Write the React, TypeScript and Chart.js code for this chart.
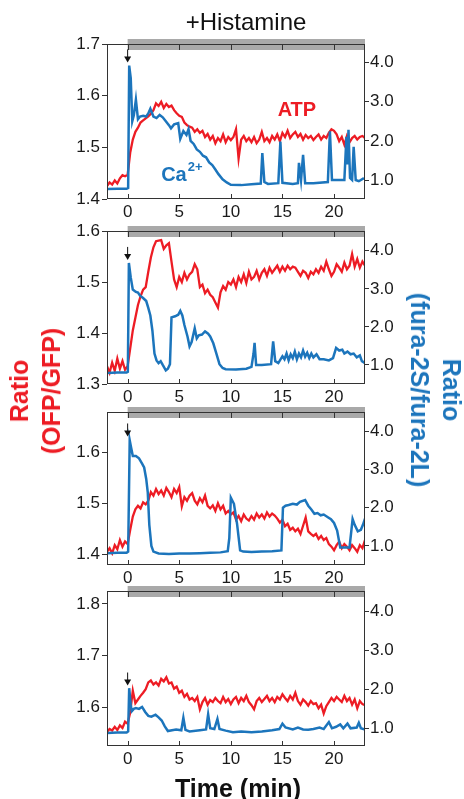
import React, { useEffect, useRef } from "react";
import { Chart, registerables } from "chart.js";
Chart.register(...registerables);

const RED = "#ED1C24";
const BLUE = "#1C75BC";
const FONT = "'Liberation Sans', Arial, Helvetica, sans-serif";

// time grid of the red (ATP) traces: -2 .. 23 min every 0.25 min
const timeStart = -2;
const timeStep = 0.25;
const xTicks = [0, 5, 10, 15, 20];
const rightTicks = [1, 2, 3, 4];
const leftTicks1 = [1.4, 1.5, 1.6, 1.7];
const leftTicks2 = [1.3, 1.4, 1.5, 1.6];
const leftTicks3 = [1.4, 1.5, 1.6];
const leftTicks4 = [1.6, 1.7, 1.8];

// ATP (OFP/GFP ratio), left axis
const atp1 = [
  1.425, 1.432, 1.428, 1.436, 1.430, 1.440, 1.446, 1.444, 1.447,
  1.490, 1.515, 1.530, 1.538, 1.548, 1.552, 1.556, 1.560,
  1.565, 1.572, 1.585, 1.580, 1.588, 1.576, 1.584, 1.578,
  1.581, 1.572, 1.566, 1.561, 1.559, 1.548, 1.543, 1.540,
  1.538, 1.530, 1.535, 1.528, 1.532, 1.520, 1.526, 1.515,
  1.522, 1.508, 1.518, 1.512, 1.525, 1.510, 1.520, 1.514,
  1.520, 1.535, 1.478, 1.515, 1.522, 1.512, 1.518, 1.510,
  1.520, 1.508, 1.515, 1.530, 1.512, 1.518, 1.510, 1.522,
  1.515, 1.525, 1.512, 1.528, 1.520, 1.532, 1.518, 1.525,
  1.530, 1.520, 1.526, 1.515, 1.524, 1.518, 1.522, 1.514,
  1.520, 1.525, 1.515, 1.522, 1.518, 1.528, 1.535, 1.532,
  1.525, 1.512, 1.520, 1.505, 1.522, 1.510, 1.518, 1.522,
  1.515, 1.520, 1.522, 1.518,
];
const atp2 = [
  1.335, 1.322, 1.342, 1.326, 1.350, 1.330, 1.345, 1.328, 1.335,
  1.370, 1.405, 1.430, 1.455, 1.472, 1.485, 1.490, 1.520,
  1.548, 1.568, 1.580, 1.581, 1.582, 1.565, 1.572, 1.576,
  1.540, 1.505, 1.490, 1.510, 1.500, 1.518, 1.505, 1.515,
  1.520, 1.535, 1.525, 1.490, 1.495, 1.478, 1.485, 1.475,
  1.470, 1.460, 1.450, 1.480, 1.492, 1.485, 1.500, 1.495,
  1.505, 1.490, 1.510, 1.500, 1.515, 1.498, 1.520, 1.505,
  1.510, 1.522, 1.505, 1.518, 1.525, 1.512, 1.528, 1.518,
  1.525, 1.532, 1.520, 1.530, 1.522, 1.532, 1.525, 1.530,
  1.528, 1.520, 1.512, 1.522, 1.518, 1.508, 1.520, 1.515,
  1.525, 1.518, 1.530, 1.522, 1.540, 1.525, 1.512, 1.520,
  1.535, 1.528, 1.520, 1.538, 1.525, 1.532, 1.555, 1.530,
  1.545, 1.528, 1.540, 1.532,
];
const atp3 = [
  1.405, 1.412, 1.402, 1.418, 1.410, 1.428, 1.415, 1.425, 1.420,
  1.448, 1.474, 1.488, 1.495, 1.490, 1.502, 1.498, 1.505,
  1.522, 1.515, 1.528, 1.518, 1.525, 1.515, 1.530, 1.522,
  1.512, 1.528, 1.520, 1.532, 1.494, 1.512, 1.505, 1.515,
  1.520, 1.505, 1.498, 1.510, 1.502, 1.515, 1.495, 1.490,
  1.496, 1.485, 1.500, 1.488, 1.495, 1.480, 1.485, 1.478,
  1.482, 1.468, 1.475, 1.465, 1.478, 1.470, 1.466, 1.475,
  1.468, 1.480, 1.472, 1.478, 1.470, 1.482, 1.474, 1.480,
  1.476, 1.470, 1.462, 1.468, 1.455, 1.460, 1.448, 1.452,
  1.445, 1.450, 1.440, 1.456, 1.472, 1.445, 1.440, 1.436,
  1.440, 1.430, 1.436, 1.428, 1.432, 1.420, 1.415, 1.408,
  1.418, 1.425, 1.412, 1.420, 1.415, 1.408, 1.418, 1.412,
  1.405, 1.418, 1.412, 1.428,
];
const atp4 = [
  1.552, 1.558, 1.555, 1.562, 1.556, 1.565, 1.560, 1.572, 1.568,
  1.590, 1.632, 1.608, 1.615, 1.622, 1.628, 1.635, 1.648,
  1.652, 1.644, 1.648, 1.642, 1.655, 1.650, 1.658, 1.646,
  1.648, 1.636, 1.640, 1.628, 1.632, 1.620, 1.626, 1.615,
  1.618, 1.612, 1.620, 1.596, 1.610, 1.618, 1.605, 1.614,
  1.610, 1.618, 1.612, 1.608, 1.620, 1.610, 1.616, 1.606,
  1.615, 1.620, 1.608, 1.618, 1.612, 1.622, 1.610, 1.604,
  1.596, 1.612, 1.618, 1.610, 1.616, 1.622, 1.612, 1.618,
  1.610, 1.620, 1.615, 1.625, 1.618, 1.612, 1.622, 1.615,
  1.628, 1.612, 1.605, 1.615, 1.610, 1.603, 1.612, 1.606,
  1.608, 1.598, 1.605, 1.588, 1.602, 1.610, 1.618, 1.612,
  1.620, 1.615, 1.610, 1.622, 1.612, 1.618, 1.605, 1.615,
  1.598, 1.612, 1.606, 1.604,
];

// Ca2+ (fura-2S/fura-2L ratio), right axis: [time, ratio]
const ca1: [number, number][] = [
  [-2, 0.77], [-1, 0.78], [-0.1, 0.78], [0.05, 0.8], [0.15, 3.92], [0.3, 3.6], [0.45, 2.5],
  [0.6, 2.65], [0.8, 3.05], [1.0, 2.55], [1.2, 2.62], [1.5, 2.64], [1.8, 2.62], [2.0, 2.7],
  [2.2, 2.82], [2.5, 2.62], [2.8, 2.58], [3.1, 2.66], [3.4, 2.6], [3.7, 2.5], [4.0, 2.4],
  [4.2, 2.32], [4.5, 2.42], [4.9, 2.45], [5.1, 2.05], [5.4, 2.25], [5.7, 2.15], [5.9, 2.3],
  [6.1, 2.0], [6.4, 1.92], [6.7, 1.78], [7.0, 1.72], [7.3, 1.62], [7.6, 1.58], [7.9, 1.45],
  [8.2, 1.38], [8.5, 1.27], [8.8, 1.15], [9.2, 1.02], [9.6, 0.94], [10.0, 0.88], [11.0, 0.87],
  [12.0, 0.89], [12.9, 0.91], [13.05, 1.69], [13.25, 0.95], [13.6, 0.9], [14.6, 0.92],
  [14.8, 1.98], [15.0, 0.93], [16.0, 0.9], [16.5, 0.92], [16.6, 1.44], [16.8, 1.0],
  [17.0, 1.64], [17.2, 0.92], [18.0, 0.92], [19.4, 0.95], [19.6, 2.24], [19.8, 1.0],
  [21.0, 1.0], [21.2, 2.1], [21.3, 1.4], [21.4, 2.28], [21.55, 1.05], [21.75, 1.0],
  [21.9, 1.85], [22.1, 1.0], [22.4, 0.97], [22.9, 1.05],
];
const ca2: [number, number][] = [
  [-2, 0.79], [-1, 0.8], [-0.1, 0.8], [0.02, 0.82], [0.12, 3.68], [0.3, 3.3], [0.5, 2.98],
  [0.8, 2.92], [1.0, 2.9], [1.2, 2.82], [1.5, 2.76], [1.8, 2.68], [2.0, 2.5], [2.2, 2.3],
  [2.4, 1.9], [2.6, 1.3], [2.8, 1.12], [3.0, 1.05], [3.2, 1.1], [3.4, 1.0], [3.7, 0.86],
  [3.9, 0.9], [4.1, 1.02], [4.25, 2.25], [4.6, 2.28], [4.9, 2.32], [5.1, 2.42], [5.3, 2.3],
  [5.5, 2.05], [5.8, 1.75], [6.0, 1.49], [6.2, 1.6], [6.5, 1.96], [6.7, 1.7], [6.9, 1.78],
  [7.2, 1.8], [7.5, 1.88], [7.8, 1.82], [8.0, 1.75], [8.3, 1.57], [8.6, 1.3], [8.9, 1.02],
  [9.2, 0.92], [9.5, 0.89], [10.5, 0.88], [11.5, 0.9], [12.0, 0.95], [12.2, 1.3], [12.3, 1.58],
  [12.45, 1.0], [13.0, 1.0], [13.9, 1.02], [14.1, 1.62], [14.3, 1.1], [14.6, 1.05], [15.0, 1.23],
  [15.2, 1.15], [15.4, 1.3], [15.6, 1.12], [15.8, 1.28], [16.0, 1.18], [16.2, 1.35], [16.4, 1.15],
  [16.6, 1.3], [16.8, 1.2], [17.0, 1.38], [17.2, 1.22], [17.4, 1.32], [17.6, 1.18], [17.8, 1.3],
  [18.0, 1.2], [18.3, 1.28], [18.6, 1.15], [19.0, 1.15], [19.5, 1.12], [19.9, 1.18], [20.2, 1.45],
  [20.5, 1.38], [20.8, 1.4], [21.0, 1.3], [21.3, 1.35], [21.6, 1.28], [21.9, 1.3], [22.2, 1.2],
  [22.5, 1.25], [22.7, 1.1], [23.0, 1.05],
];
const ca3: [number, number][] = [
  [-2, 0.81], [-1, 0.82], [-0.1, 0.82], [0.05, 0.85], [0.2, 3.76], [0.35, 3.55], [0.5, 3.35],
  [0.8, 3.35], [1.1, 3.29], [1.4, 3.15], [1.6, 3.05], [1.8, 2.75], [1.95, 2.4], [2.1, 1.55],
  [2.3, 1.0], [2.5, 0.85], [3.0, 0.8], [4.0, 0.79], [5.0, 0.8], [6.0, 0.8], [7.0, 0.81],
  [8.0, 0.82], [9.0, 0.83], [9.7, 0.86], [9.85, 1.2], [10.0, 2.26], [10.3, 2.1], [10.6, 1.58],
  [10.9, 0.88], [11.2, 0.85], [12.0, 0.84], [13.0, 0.85], [14.0, 0.86], [14.9, 0.88],
  [15.05, 2.0], [15.3, 2.05], [15.6, 2.07], [16.0, 2.1], [16.4, 2.08], [16.7, 2.15], [17.2, 2.2],
  [17.5, 2.05], [17.8, 1.95], [18.1, 1.84], [18.4, 1.86], [18.7, 1.8], [19.0, 1.82], [19.4, 1.75],
  [19.7, 1.7], [20.0, 1.6], [20.3, 1.4], [20.6, 0.96], [21.5, 0.96], [21.8, 1.7], [22.0, 1.55],
  [22.3, 1.38], [22.6, 1.42], [22.8, 1.55], [23.0, 1.71],
];
const ca4: [number, number][] = [
  [-2, 0.88], [-1, 0.89], [-0.1, 0.89], [0.05, 0.92], [0.15, 2.03], [0.3, 1.6], [0.4, 1.44],
  [0.6, 1.5], [0.8, 1.52], [1.1, 1.5], [1.4, 1.55], [1.7, 1.42], [2.0, 1.32], [2.3, 1.3],
  [2.7, 1.35], [3.0, 1.28], [3.3, 1.2], [3.6, 1.05], [3.9, 0.93], [4.3, 0.95], [4.7, 0.97],
  [5.2, 0.95], [5.4, 1.27], [5.6, 0.96], [6.0, 0.92], [7.0, 0.95], [7.6, 0.97], [7.8, 1.36],
  [8.0, 1.0], [8.4, 0.98], [8.7, 1.24], [8.9, 0.98], [9.5, 0.94], [10.2, 0.9], [11.0, 0.92],
  [12.0, 0.9], [13.0, 0.92], [14.0, 0.95], [14.7, 0.98], [15.0, 1.12], [15.3, 1.02], [16.0, 0.97],
  [16.5, 1.02], [17.0, 0.97], [17.5, 0.96], [18.0, 0.98], [18.6, 1.02], [19.0, 0.98], [19.5, 1.16],
  [19.8, 1.0], [20.2, 1.04], [20.6, 1.1], [20.9, 1.0], [21.3, 1.12], [21.6, 1.0], [22.2, 1.02],
  [22.4, 1.14], [22.6, 1.0], [23.0, 0.97],
];

// arrow tip (right-axis units) at t = 0 for each panel
const arrowTips = [4.0, 3.76, 3.86, 2.1];

type PanelCfg = {
  top: number; bottom: number;
  leftMin: number; leftMax: number; leftTicks: number[];
  rightMin: number; rightMax: number;
  red: number[]; blue: [number, number][];
  arrow: number; labels: boolean;
};

const PANELS: PanelCfg[] = [
  { top: 44, bottom: 199, leftMin: 1.4, leftMax: 1.7, leftTicks: leftTicks1, rightMin: 0.516, rightMax: 4.47, red: atp1, blue: ca1, arrow: arrowTips[0], labels: true },
  { top: 231, bottom: 384, leftMin: 1.3, leftMax: 1.6, leftTicks: leftTicks2, rightMin: 0.5, rightMax: 4.52, red: atp2, blue: ca2, arrow: arrowTips[1], labels: false },
  { top: 412, bottom: 565, leftMin: 1.379, leftMax: 1.679, leftTicks: leftTicks3, rightMin: 0.5, rightMax: 4.5, red: atp3, blue: ca3, arrow: arrowTips[2], labels: false },
  { top: 591, bottom: 746, leftMin: 1.525, leftMax: 1.825, leftTicks: leftTicks4, rightMin: 0.545, rightMax: 4.53, red: atp4, blue: ca4, arrow: arrowTips[3], labels: false },
];

const PAD_TOP = 16;
const X_AXIS_H = 30;

function makeDecor(p: PanelCfg) {
  return {
    id: "decor",
    afterDatasetsDraw(chart: any) {
      const { ctx, chartArea: a, scales } = chart;
      const x = scales.x, yR = scales.yR, yL = scales.yL;
      ctx.save();
      // grey bar (histamine application)
      const gx0 = x.getPixelForValue(0);
      const gx1 = x.getPixelForValue(23);
      ctx.fillStyle = "#a9a9a9";
      ctx.fillRect(gx0, a.top - 5, gx1 - gx0, 11);
      // frame
      ctx.strokeStyle = "#333";
      ctx.lineWidth = 1;
      ctx.strokeRect(Math.round(a.left) + 0.5, Math.round(a.top) + 0.5, Math.round(a.width) - 1, Math.round(a.height) - 1);
      // inward x ticks
      ctx.beginPath();
      for (const v of xTicks) {
        const px = Math.round(x.getPixelForValue(v)) + 0.5;
        ctx.moveTo(px, a.bottom);
        ctx.lineTo(px, a.bottom - 5);
        ctx.moveTo(px, a.top);
        ctx.lineTo(px, a.top + 6);
      }
      ctx.stroke();
      // arrow
      const ax = x.getPixelForValue(0);
      const ty = yR.getPixelForValue(p.arrow);
      ctx.strokeStyle = "#111";
      ctx.fillStyle = "#111";
      ctx.beginPath();
      ctx.moveTo(ax, ty - 13);
      ctx.lineTo(ax, ty - 5);
      ctx.stroke();
      ctx.beginPath();
      ctx.moveTo(ax - 3.5, ty - 6);
      ctx.lineTo(ax + 3.5, ty - 6);
      ctx.lineTo(ax, ty);
      ctx.closePath();
      ctx.fill();
      // series labels
      if (p.labels) {
        ctx.textBaseline = "middle";
        ctx.textAlign = "center";
        ctx.fillStyle = RED;
        ctx.font = `bold 20px ${FONT}`;
        ctx.fillText("ATP", x.getPixelForValue(16.4), yL.getPixelForValue(1.572));
        ctx.fillStyle = BLUE;
        ctx.textAlign = "left";
        const cx = x.getPixelForValue(3.25);
        const cy = yL.getPixelForValue(1.446);
        ctx.fillText("Ca", cx, cy);
        const w = ctx.measureText("Ca").width;
        ctx.font = `bold 13px ${FONT}`;
        ctx.fillText("2+", cx + w + 1, cy - 8);
      }
      ctx.restore();
    },
  };
}

function Panel({ p }: { p: PanelCfg }) {
  const ref = useRef<HTMLCanvasElement>(null);
  const h = p.bottom - p.top + PAD_TOP + X_AXIS_H;
  useEffect(() => {
    const canvas = ref.current;
    if (!canvas) return;
    const tickFont = { size: 17, family: FONT };
    const chart = new Chart(canvas, {
      type: "line",
      data: {
        datasets: [
          {
            data: p.blue.map(([t, v]) => ({ x: t, y: v })),
            yAxisID: "yR",
            borderColor: BLUE,
            borderWidth: 2.5,
            pointRadius: 0,
            tension: 0,
          },
          {
            data: p.red.map((v, i) => ({ x: timeStart + i * timeStep, y: v })),
            yAxisID: "yL",
            borderColor: RED,
            borderWidth: 2.3,
            pointRadius: 0,
            tension: 0,
          },
        ],
      },
      options: {
        responsive: false,
        animation: false,
        events: [],
        layout: { padding: { top: PAD_TOP, left: 0, right: 0, bottom: 0 } },
        plugins: { legend: { display: false }, tooltip: { enabled: false }, title: { display: false } },
        scales: {
          x: {
            type: "linear",
            min: -2,
            max: 23,
            afterFit: (s: any) => { s.height = X_AXIS_H; },
            afterBuildTicks: (s: any) => { s.ticks = xTicks.map((value) => ({ value })); },
            grid: { display: false, drawTicks: false },
            border: { display: false },
            ticks: { padding: 3, color: "#1a1a1a", font: tickFont, maxRotation: 0, autoSkip: false, callback: (v: any) => String(v) },
          },
          yL: {
            type: "linear",
            position: "left",
            min: p.leftMin,
            max: p.leftMax,
            afterFit: (s: any) => { s.width = 107; },
            afterBuildTicks: (s: any) => { s.ticks = p.leftTicks.map((value) => ({ value })); },
            grid: { drawOnChartArea: false, drawTicks: true, tickLength: 5, color: "#333" },
            border: { display: false },
            ticks: { padding: 2, color: "#1a1a1a", font: tickFont, callback: (v: any) => Number(v).toFixed(1) },
          },
          yR: {
            type: "linear",
            position: "right",
            min: p.rightMin,
            max: p.rightMax,
            afterFit: (s: any) => { s.width = 99; },
            afterBuildTicks: (s: any) => { s.ticks = rightTicks.map((value) => ({ value })); },
            grid: { drawOnChartArea: false, drawTicks: true, tickLength: 4, color: "#333" },
            border: { display: false },
            ticks: { padding: 1, color: "#1a1a1a", font: tickFont, callback: (v: any) => Number(v).toFixed(1) },
          },
        },
      } as any,
      plugins: [makeDecor(p)],
    });
    return () => chart.destroy();
  }, [p]);
  return (
    <canvas
      ref={ref}
      width={464}
      height={h}
      style={{ position: "absolute", left: 0, top: p.top - PAD_TOP, width: 464, height: h }}
    />
  );
}

export default function App() {
  const rotBase: React.CSSProperties = {
    position: "absolute",
    fontFamily: FONT,
    fontWeight: "bold",
    fontSize: 25,
    lineHeight: "32px",
    textAlign: "center",
    whiteSpace: "nowrap",
  };
  return (
    <div style={{ position: "absolute", left: 0, top: 0, width: 464, height: 799, background: "#fff", overflow: "hidden" }}>
      {PANELS.map((p, i) => (
        <Panel key={i} p={p} />
      ))}
      <div style={{ position: "absolute", left: 246, top: 22, transform: "translate(-50%, -50%)", fontFamily: FONT, fontSize: 24, color: "#111", whiteSpace: "nowrap" }}>
        +Histamine
      </div>
      <div style={{ position: "absolute", left: 238, top: 788, transform: "translate(-50%, -50%)", fontFamily: FONT, fontSize: 25, fontWeight: "bold", color: "#111", whiteSpace: "nowrap" }}>
        Time (min)
      </div>
      <div style={{ ...rotBase, left: 35, top: 391, color: RED, transform: "translate(-50%, -50%) rotate(-90deg)" }}>
        Ratio<br />(OFP/GFP)
      </div>
      <div style={{ ...rotBase, left: 436, top: 390, color: BLUE, transform: "translate(-50%, -50%) rotate(90deg)" }}>
        Ratio<br />(fura-2S/fura-2L)
      </div>
    </div>
  );
}
